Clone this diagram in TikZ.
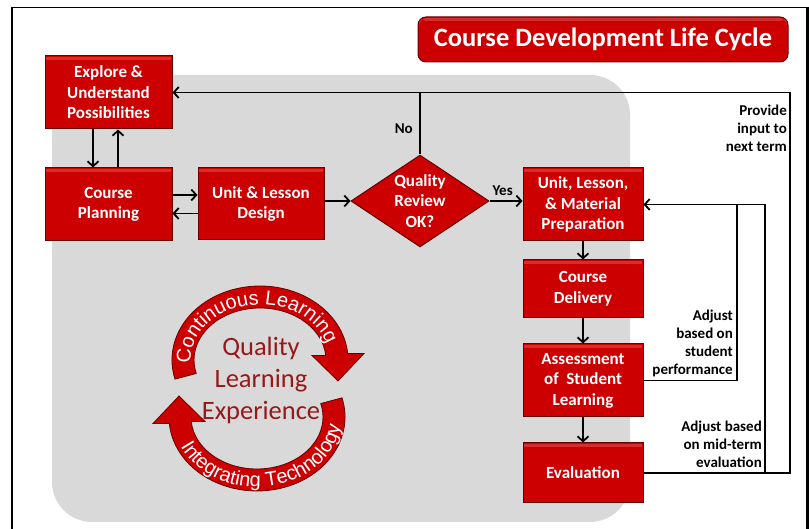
\documentclass[tikz,border=0pt]{standalone}
\usepackage{fontspec}
\setmainfont{Carlito}
\newfontfamily\arcfont{Liberation Sans}
\usetikzlibrary{arrows.meta,shapes.geometric,decorations.text}
\definecolor{boxred}{RGB}{204,0,0}
\definecolor{boxedge}{RGB}{105,0,0}
\definecolor{bggrey}{RGB}{217,217,217}
\definecolor{qlered}{RGB}{150,25,25}
\tikzset{
  redbox/.style={rectangle, fill=boxred, draw=boxedge, line width=1pt, text=white,
    font=\fontsize{17}{20.5}\selectfont\bfseries, align=center, inner sep=0pt,
    path picture={\fill[white, opacity=0.18] ([xshift=1pt,yshift=-1pt]path picture bounding box.north west) rectangle ([xshift=-1pt,yshift=-4pt]path picture bounding box.north east);}},
  arr/.style={line width=1.8pt, -{Straight Barb[length=5pt,width=11pt]}},
  plainline/.style={line width=1.8pt},
  lbl/.style={font=\fontsize{15}{18}\selectfont\bfseries, align=right, inner sep=0pt},
  ringarrow/.style={fill=boxred, draw=boxedge, line width=0.8pt}
}
\begin{document}
\begin{tikzpicture}[x=1pt,y=1pt]
\useasboundingbox (0,0) rectangle (809,529);
% frame
\draw[line width=1.6pt] (11.8,0) -- (11.8,521.5) -- (807.5,521.5);
\draw[line width=2.6pt] (807.5,522.3) -- (807.5,0);
% grey background
\fill[bggrey, rounded corners=40pt] (52,7) rectangle (630,454);
% title
\node[redbox, rounded corners=8pt, minimum width=370pt, minimum height=45pt,
      font=\fontsize{26.5}{30}\selectfont\bfseries] (title) at (603,489.5) {Course Development Life Cycle};
% boxes
\node[redbox, minimum width=127pt, minimum height=73pt] (explore) at (108.5,436.5) {Explore \&\\Understand\\Possibilities};
\node[redbox, minimum width=127pt, minimum height=73pt] (plan) at (108.5,324.5) {Course\\Planning};
\node[redbox, minimum width=126pt, minimum height=72pt] (design) at (261,325) {Unit \& Lesson\\Design};
\node[diamond, fill=boxred, draw=boxedge, line width=1pt, minimum width=138pt, minimum height=92pt, inner sep=0pt] (q) at (420,328) {};
\node[text=white, font=\fontsize{17}{20.5}\selectfont\bfseries, align=center, inner sep=0pt] (qtext) at (420,328) {Quality\\Review\\OK?};
\node[redbox, minimum width=120pt, minimum height=73pt] (prep) at (583,324.5) {Unit, Lesson,\\\& Material\\Preparation};
\node[redbox, minimum width=120pt, minimum height=58pt] (deliv) at (583,240) {Course\\Delivery};
\node[redbox, minimum width=120pt, minimum height=73pt] (assess) at (583,148.5) {Assessment\\of~ Student\\Learning};
\node[redbox, minimum width=120pt, minimum height=60pt] (eval) at (583,56) {Evaluation};
% connectors left
\draw[arr] ([xshift=-15.5pt]explore.south) -- ([xshift=-15.5pt]plan.north);
\draw[arr] ([xshift=9.5pt]plan.north) -- ([xshift=9.5pt]explore.south);
\draw[arr] ([yshift=9.5pt]plan.east) -- ([yshift=9.5pt]plan.east -| design.west);
\draw[arr] ([yshift=-9.5pt]design.west) -- ([yshift=-9.5pt]design.west -| plan.east);
\draw[arr] (design.east |- q) -- (q.west);
\draw[arr] (q.east) -- (q.east -| prep.west) node[pos=0.4, above=1pt, font=\fontsize{15}{18}\selectfont\bfseries] (yes) {Yes};
\draw[arr] (prep.south) -- (deliv.north);
\draw[arr] (deliv.south) -- (assess.north);
\draw[arr] (assess.south) -- (eval.north);
% feedback loops
\coordinate (nt) at (790,436.5);
\coordinate (mt) at (765,324.5);
\coordinate (sp) at (737,324.5);
\draw[plainline] (q.north) -- (q.north |- nt) node[pos=0.42, left=3pt, font=\fontsize{15}{18}\selectfont\bfseries] (no) {No};
\draw[arr] (eval.east) -| (nt) -- (explore.east);
\draw[arr] (eval.east -| mt) -- (mt) -- (prep.east);
\draw[plainline] (assess.east) -| (sp);
% labels
\node[lbl, anchor=east] (lnext) at (787,401) {Provide\\input to\\next term};
\node[lbl, anchor=east] (lstud) at (733,186) {Adjust\\based on\\student\\performance};
\node[lbl, anchor=east] (lmid) at (762,85) {Adjust based\\on mid-term\\evaluation};
% ring arrows
\coordinate (c1) at (260,169);
\coordinate (c2) at (257,112);
\draw[ringarrow] (175.0,149.85) arc[start angle=195, end angle=5, x radius=88, y radius=74]
  -- (364,175.5) -- (338,148) -- (312,173.5) -- (325.75,173.53)
  arc[start angle=5, end angle=195, x radius=66, y radius=52] -- cycle;
\draw[ringarrow] (342,131.15) arc[start angle=15, end angle=-175, x radius=88, y radius=74]
  -- (153,105.5) -- (179,133) -- (205,107.5) -- (191.25,107.47)
  arc[start angle=-175, end angle=15, x radius=66, y radius=52] -- cycle;
\path[decorate, decoration={text along path, text align=center, text color=white,
   text={|\arcfont\fontsize{20}{20}\selectfont|Continuous Learning}}]
   (c1) ++(196:69.5 and 55.5) arc[start angle=196, end angle=4, x radius=69.5, y radius=55.5];
\path[decorate, decoration={text along path, text align=center, text color=white,
   text={|\arcfont\fontsize{20}{20}\selectfont|Integrating Technology}}]
   (c2) ++(184:84 and 70) arc[start angle=184, end angle=374, x radius=84, y radius=70];
\node[font=\fontsize{26.5}{32}\selectfont, text=qlered, align=center, inner sep=0pt] (qle) at (261,149) {Quality\\Learning\\Experience};
\end{tikzpicture}
\end{document}
